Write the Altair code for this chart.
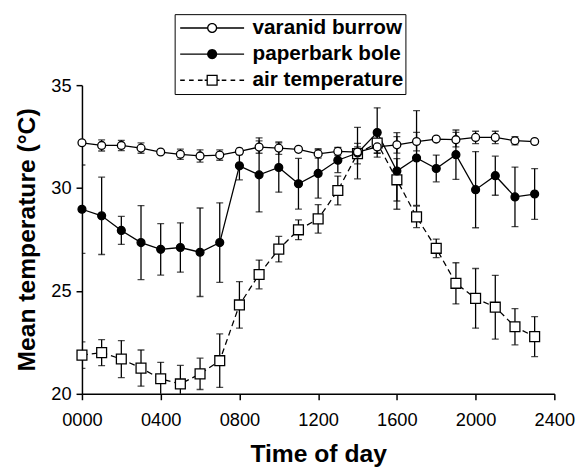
import math
import altair as alt
import pandas as pd

hours = list(range(0, 2400, 100))
series_names = ["varanid burrow", "paperbark bole", "air temperature"]

varanid_mean = [32.2, 32.07, 32.07, 31.94, 31.75, 31.64, 31.56, 31.6, 31.78, 31.99, 31.94, 31.88,
                31.66, 31.78, 31.75, 32.0, 32.1, 32.26, 32.38, 32.35, 32.46, 32.46, 32.3, 32.26]
varanid_err = [0.05, 0.27, 0.25, 0.25, 0.05, 0.25, 0.3, 0.25, 0.15, 0.3, 0.3, 0.1,
               0.2, 0.2, 0.25, 0.3, 0.4, 0.45, 0.1, 0.35, 0.3, 0.3, 0.2, 0.1]

paperbark_mean = [28.97, 28.65, 27.94, 27.35, 27.02, 27.11, 26.88, 27.35, 31.08, 30.64, 31.0, 30.21,
                  30.71, 31.35, 31.7, 32.7, 30.83, 31.46, 30.95, 31.62, 29.92, 30.6, 29.57, 29.71]
paperbark_err = [2.15, 1.88, 0.68, 1.8, 1.25, 1.2, 2.15, 1.93, 0.68, 1.8, 1.2, 1.23,
                 1.2, 0.6, 1.25, 1.2, 1.86, 2.3, 0.65, 1.2, 1.85, 0.95, 1.45, 1.23]

air_mean = [21.88, 22.0, 21.69, 21.25, 20.73, 20.48, 20.97, 21.61, 24.32, 25.8, 27.03, 27.97,
            28.5, 29.88, 31.67, 32.19, 30.4, 28.6, 27.07, 25.37, 24.64, 24.21, 23.26, 22.78]
air_err = [0.64, 0.63, 0.9, 0.88, 0.8, 0.9, 0.76, 1.3, 1.13, 0.7, 0.62, 0.48,
           0.69, 0.7, 0.5, 0.5, 1.03, 0.52, 0.45, 1.0, 1.45, 1.55, 0.88, 0.97]

x_ticks = [0, 400, 800, 1200, 1600, 2000, 2400]
y_ticks = [20, 25, 30, 35]

rows = []
for name, means, errs in [(series_names[0], varanid_mean, varanid_err),
                          (series_names[1], paperbark_mean, paperbark_err),
                          (series_names[2], air_mean, air_err)]:
    for h, m, e in zip(hours, means, errs):
        rows.append({"series": name, "time": h, "mean": m, "lo": m - e, "hi": m + e})
df = pd.DataFrame(rows)

FONT = "Liberation Sans"

xenc = alt.X("time:Q", scale=alt.Scale(domain=[0, 2400], nice=False),
             axis=alt.Axis(values=x_ticks, format="04d", title="Time of day",
                           titlePadding=13, labelPadding=11, labelFlush=False))
yenc = alt.Y("mean:Q", scale=alt.Scale(domain=[20, 35], nice=False, zero=False),
             axis=alt.Axis(values=y_ticks, title="Mean temperature (°C)",
                           titlePadding=12, labelPadding=5))

base = alt.Chart(df)

solid_lines = base.transform_filter(alt.datum.series != series_names[2]).mark_line(
    color="black", strokeWidth=1.3).encode(x=xenc, y=yenc, detail="series:N")
air_line = base.transform_filter(alt.datum.series == series_names[2]).mark_line(
    color="black", strokeWidth=1.3, strokeDash=[6, 4]).encode(x="time:Q", y="mean:Q")

rules = base.mark_rule(color="black", strokeWidth=1.3, clip=True).encode(
    x="time:Q", y=alt.Y("lo:Q"), y2="hi:Q")
caps_lo = base.mark_tick(color="black", orient="horizontal", size=7, thickness=1.3, clip=True).encode(
    x="time:Q", y="lo:Q")
caps_hi = base.mark_tick(color="black", orient="horizontal", size=7, thickness=1.3, clip=True).encode(
    x="time:Q", y="hi:Q")

def pts(name, shape, fill, size):
    return base.transform_filter(alt.datum.series == name).mark_point(
        shape=shape, filled=True, fill=fill, stroke="black", strokeWidth=1.3,
        size=size, opacity=1).encode(x="time:Q", y="mean:Q")

pts_air = pts(series_names[2], "square", "white", 100)
pts_paper = pts(series_names[1], "circle", "black", 64)
pts_var = pts(series_names[0], "circle", "white", 64)

# legend glyphs (line + marker) drawn as filled outlines in the unit square [-1, 1]
def f(v):
    return f"{v:.4f}"

def rect(x0, x1, y0, y1):
    return f"M{f(x0)},{f(y0)}L{f(x1)},{f(y0)}L{f(x1)},{f(y1)}L{f(x0)},{f(y1)}Z"

def circ(rad, clockwise=True, n=28):
    ks = range(n) if clockwise else range(n, 0, -1)
    return "M" + "L".join(
        f"{f(rad * math.cos(2 * math.pi * k / n))},{f(rad * math.sin(2 * math.pi * k / n))}"
        for k in ks) + "Z"

def square(h, clockwise=True):
    if clockwise:
        return rect(-h, h, -h, h)
    return f"M{f(-h)},{f(-h)}L{f(-h)},{f(h)}L{f(h)},{f(h)}L{f(h)},{f(-h)}Z"

t = 0.019          # half line thickness
ro, ri = 0.143, 0.105
lines_solid = rect(-0.9, -ro + 0.004, -t, t) + rect(ro - 0.004, 0.9, -t, t)
sym_open = lines_solid + circ(ro) + circ(ri, clockwise=False)
sym_filled = lines_solid + circ(ro)
so, si = 0.157, 0.12
dash_segs = [(-0.9, -0.77), (-0.65, -0.52), (-0.4, -0.27), (-0.21, -so),
             (so, 0.21), (0.27, 0.4), (0.52, 0.65), (0.77, 0.9)]
sym_air = "".join(rect(a, b, -t, t) for a, b in dash_segs) + square(so) + square(si, clockwise=False)

legend_layer = base.transform_filter("false").mark_point(
    filled=True, color="black", strokeWidth=0).encode(
    x="time:Q", y="mean:Q",
    shape=alt.Shape("series:N",
                    scale=alt.Scale(domain=series_names, range=[sym_open, sym_filled, sym_air]),
                    legend=alt.Legend(
                        title=None, orient="none", legendX=94, legendY=-72,
                        strokeColor="black", fillColor="white", padding=2,
                        labelFont=FONT, labelFontSize=21, labelFontWeight="bold", labelColor="black",
                        symbolSize=5184, clipHeight=24, rowPadding=2.5, labelOffset=5,
                        symbolFillColor="black", symbolStrokeWidth=0, symbolOpacity=1,
                    )),
)

chart = alt.layer(solid_lines, air_line, rules, caps_lo, caps_hi, pts_air, pts_paper, pts_var,
                  legend_layer).properties(
    width=479, height=313,
    padding={"left": 75, "top": 75, "right": 24, "bottom": 73},
    autosize=alt.AutoSizeParams(type="none"),
    background="white",
).configure_view(stroke=None).configure_axis(
    domainColor="black", domainWidth=1.5, tickColor="black", tickWidth=1.5, tickSize=6,
    labelFont=FONT, labelFontSize=18.5, labelColor="black",
    titleFont=FONT, titleFontSize=25, titleFontWeight="bold", titleColor="black",
    grid=False,
)

chart.save("out.html", embed_options={"renderer": "svg", "actions": False})
